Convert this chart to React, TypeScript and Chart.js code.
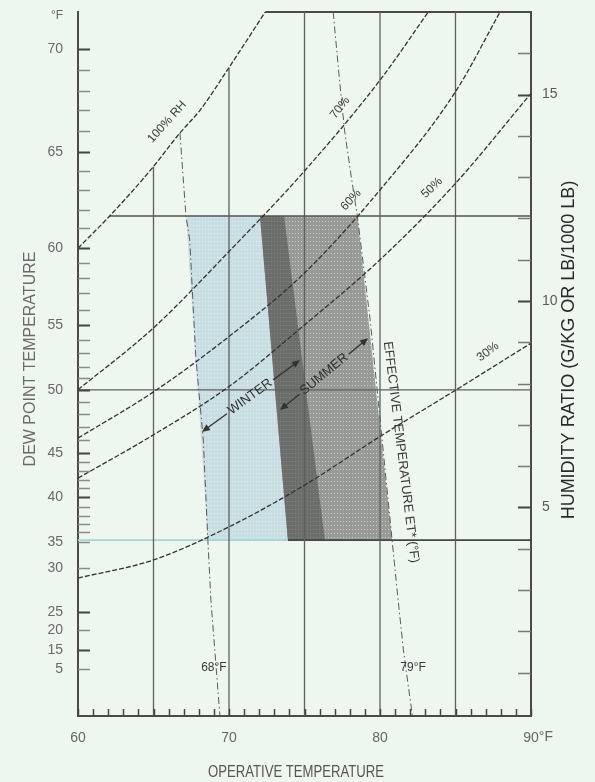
import { useEffect, useRef } from 'react';
import { Chart, registerables } from 'chart.js';

Chart.register(...registerables);

const FONT = '"Liberation Sans", Arial, sans-serif';

// ---------- axes ----------
const tempMin = 60;
const tempMax = 90;
const ratioMin = -0.05;
const ratioMax = 17;
const xTickTemps = Array.from({ length: 31 }, (_, i) => 60 + i);
const xLabelTemps = [60, 70, 80, 90];
const ratioTicks = Array.from({ length: 16 }, (_, i) => i + 1);
const ratioLabels = [5, 10, 15];
// dew point scale, placed on the humidity-ratio axis (g/kg)
const dewTickW = [16.1, 15.6, 15.09, 14.63, 14.12, 13.61, 13.15, 12.69, 12.2, 11.77, 11.28, 10.92, 10.56, 10.19, 9.78, 9.42, 9.06, 8.74, 8.4, 8.14, 7.85, 7.55, 7.26, 6.95, 6.63, 6.32, 6.1, 5.88, 5.67, 5.47, 5.25, 5.01, 4.79, 4.6, 4.41, 4.16, 3.53, 2.47, 2.03, 1.55, 1.09];
const dewTickLabel = ['70', '', '', '', '', '65', '', '', '', '', '60', '', '', '', '', '55', '', '', '', '', '50', '', '', '', '', '45', '', '', '', '', '40', '', '', '', '', '35', '30', '25', '20', '15', '5'];

// ---------- relative humidity curves (operative temp °F, humidity ratio g/kg) ----------
const rh100T = [60, 62.1, 64.8, 66.75, 68.1, 69.9, 72.4];
const rh100W = [11.28, 12.06, 13.17, 14.07, 14.63, 15.6, 17.0];
const rh70T = [60, 65, 70, 75, 80, 83.2];
const rh70W = [7.85, 9.35, 11.2, 13.15, 15.35, 17.0];
const rh60T = [60, 65, 70, 75, 80, 85, 87.95];
const rh60W = [6.68, 7.8, 9.14, 10.68, 12.69, 15.07, 17.0];
const rh50T = [60, 65, 70, 75, 80, 85, 90];
const rh50W = [5.71, 6.76, 7.93, 9.42, 11.0, 12.85, 15.03];
const rh30T = [60, 65, 70, 75, 80, 85, 90];
const rh30W = [3.29, 3.73, 4.53, 5.54, 6.72, 7.84, 8.98];

// ---------- effective temperature lines ----------
const et68T = [66.75, 67.15, 67.4, 67.8, 68.3, 68.6, 68.8, 69.4];
const et68W = [14.07, 12.06, 11.48, 8.64, 6.63, 4.21, 2.76, -0.05];
const et79T = [76.9, 77.3, 77.65, 78.1, 78.5, 79.35, 80.8, 81.2, 81.55, 82.0, 82.15];
const et79W = [17.0, 15.42, 14.14, 13.0, 12.06, 9.54, 4.21, 2.76, 1.55, 0.34, -0.05];

// ---------- comfort zones ----------
const zoneW = [12.06, 12.06, 4.21, 4.21];
const winterT = [67.15, 73.65, 76.35, 68.6];
const summerT = [72.05, 78.5, 80.8, 73.9];

// ---------- reference lines ----------
const gridTemps = [65, 70, 75, 80, 85];
const gridTopW = [13.25, 15.65, 17, 17, 17];
const upperLimitW = 12.06;
const upperLimitStartT = 62.1;
const midLineW = 7.85;
const lowerLimitW = 4.21;
const topBorderStartT = 72.4;

// ---------- annotations (data coordinates) ----------
const rhLabels = [
  { text: '100% RH', t: 65.9, w: 14.34, angle: -48 },
  { text: '70%', t: 77.35, w: 14.68, angle: -52 },
  { text: '60%', t: 78.08, w: 12.45, angle: -47 },
  { text: '50%', t: 83.44, w: 12.74, angle: -44 },
  { text: '30%', t: 87.15, w: 8.77, angle: -37 },
];
const etLabels = [
  { text: '68°F', t: 69.0, w: 1.11 },
  { text: '79°F', t: 82.19, w: 1.11 },
];
const seasonArrows = [
  { text: 'WINTER', t1: 68.21, w1: 6.83, t2: 74.7, w2: 8.57, tc: 71.39, wc: 7.68 },
  { text: 'SUMMER', t1: 73.38, w1: 7.36, t2: 79.21, w2: 9.1, tc: 76.3, wc: 8.23 },
];

const pts = (T: number[], W: number[]) => T.map((t, i) => ({ x: t, y: W[i] }));
const closed = (p: { x: number; y: number }[]) => [...p, p[0]];

function text(ctx: CanvasRenderingContext2D, s: string, x: number, y: number, o: { font: string; color: string; angle?: number; align?: CanvasTextAlign; scaleX?: number; baseline?: CanvasTextBaseline }) {
  ctx.save();
  ctx.translate(x, y);
  if (o.angle) ctx.rotate((o.angle * Math.PI) / 180);
  if (o.scaleX) ctx.scale(o.scaleX, 1);
  ctx.font = o.font;
  ctx.fillStyle = o.color;
  ctx.textAlign = o.align || 'center';
  ctx.textBaseline = o.baseline || 'middle';
  ctx.fillText(s, 0, 0);
  ctx.restore();
}

function seg(ctx: CanvasRenderingContext2D, x1: number, y1: number, x2: number, y2: number) {
  ctx.beginPath();
  ctx.moveTo(x1, y1);
  ctx.lineTo(x2, y2);
  ctx.stroke();
}

function head(ctx: CanvasRenderingContext2D, x: number, y: number, ang: number) {
  const L = 8, H = 3.5;
  const ux = Math.cos(ang), uy = Math.sin(ang);
  ctx.beginPath();
  ctx.moveTo(x, y);
  ctx.lineTo(x - ux * L - uy * H, y - uy * L + ux * H);
  ctx.lineTo(x - ux * L + uy * H, y - uy * L - ux * H);
  ctx.closePath();
  ctx.fill();
}

const noPad = (s: any) => {
  s.paddingTop = 0;
  s.paddingBottom = 0;
  s.paddingLeft = 0;
  s.paddingRight = 0;
};

const decor = {
  id: 'decor',
  beforeDraw(chart: any) {
    const { ctx, width, height } = chart;
    ctx.save();
    ctx.fillStyle = '#eef6f0';
    ctx.fillRect(0, 0, width, height);
    ctx.restore();
  },
  afterDraw(chart: any) {
    const { ctx, chartArea: a } = chart;
    const sx = chart.scales.x;
    const sy = chart.scales.y;
    const X = (t: number) => sx.getPixelForValue(t);
    const Y = (w: number) => sy.getPixelForValue(w);
    ctx.save();
    ctx.lineCap = 'butt';
    // left (dew point) tick marks, inward
    dewTickW.forEach((w, i) => {
      const major = ['70', '65', '60', '55', '50', '45', '40', '25', '15'].includes(dewTickLabel[i]);
      ctx.strokeStyle = major ? '#444' : '#8a8a8a';
      ctx.lineWidth = major ? 2 : 1.5;
      const py = Math.round(Y(w)) + 0.5;
      seg(ctx, a.left, py, a.left + 12, py);
    });
    // bottom tick marks
    ctx.strokeStyle = '#444';
    ctx.lineWidth = 1.5;
    xTickTemps.forEach((t) => {
      const px = Math.round(X(t)) + 0.5;
      seg(ctx, px, a.bottom, px, a.bottom - 7);
    });
    // right tick marks
    ratioTicks.forEach((w) => {
      const py = Math.round(Y(w)) + 0.5;
      ctx.strokeStyle = ratioLabels.includes(w) ? '#444' : '#777';
      ctx.lineWidth = ratioLabels.includes(w) ? 2 : 1.5;
      seg(ctx, a.right - 13, py, a.right, py);
    });

    // RH labels
    rhLabels.forEach((l) => text(ctx, l.text, X(l.t), Y(l.w), { font: `12px ${FONT}`, color: '#3a3a3a', angle: l.angle }));
    // ET labels
    etLabels.forEach((l) => text(ctx, l.text, X(l.t), Y(l.w), { font: `12px ${FONT}`, color: '#3a3a3a' }));
    // effective temperature title, along the ET line
    text(ctx, 'EFFECTIVE TEMPERATURE ET* (°F)', X(81.39), Y(6.34), { font: `13px ${FONT}`, color: '#3a3a3a', angle: 83 });

    // season arrows
    seasonArrows.forEach((s) => {
      const x1 = X(s.t1), y1 = Y(s.w1), x2 = X(s.t2), y2 = Y(s.w2);
      const cx = X(s.tc), cy = Y(s.wc);
      const ang = Math.atan2(y2 - y1, x2 - x1);
      ctx.font = `13px ${FONT}`;
      const gap = ctx.measureText(s.text).width / 2 + 3;
      const ux = Math.cos(ang), uy = Math.sin(ang);
      ctx.strokeStyle = '#333';
      ctx.fillStyle = '#333';
      ctx.lineWidth = 1.4;
      seg(ctx, x1 + ux * 4, y1 + uy * 4, cx - ux * gap, cy - uy * gap);
      seg(ctx, cx + ux * gap, cy + uy * gap, x2 - ux * 4, y2 - uy * 4);
      head(ctx, x1, y1, ang + Math.PI);
      head(ctx, x2, y2, ang);
      text(ctx, s.text, cx, cy, { font: `13px ${FONT}`, color: '#2f2f2f', angle: (ang * 180) / Math.PI });
    });

    // °F marks
    text(ctx, '°F', a.left - 21, a.top + 4, { font: `12px ${FONT}`, color: '#666' });
    ctx.font = `14px ${FONT}`;
    const w90 = ctx.measureText('90').width;
    text(ctx, '°F', X(90) + w90 / 2, a.bottom + 14, { font: `14px ${FONT}`, color: '#666', align: 'left', baseline: 'top' });

    // axis titles
    text(ctx, 'OPERATIVE TEMPERATURE', a.left + 218, a.bottom + 57, { font: `16px ${FONT}`, color: '#555', scaleX: 0.82 });
    text(ctx, 'DEW POINT TEMPERATURE', 31, a.top + 347, { font: `16px ${FONT}`, color: '#6a6a6a', angle: -90 });
    text(ctx, 'HUMIDITY RATIO (G/KG OR LB/1000 LB)', a.right + 38, a.top + 338, { font: `18px ${FONT}`, color: '#2a2a2a', angle: -90 });
    ctx.restore();
  },
};

export default function App() {
  const ref = useRef<HTMLCanvasElement>(null);
  useEffect(() => {
    const canvas = ref.current!;
    const ctx = canvas.getContext('2d')!;
    const pattern = (base: string, dot: string, w: number, h: number) => {
      const c = document.createElement('canvas');
      c.width = w;
      c.height = h;
      const g = c.getContext('2d')!;
      g.fillStyle = base;
      g.fillRect(0, 0, w, h);
      g.fillStyle = dot;
      g.fillRect(1, 1, 1, 1);
      return ctx.createPattern(c, 'repeat') as CanvasPattern;
    };
    const winterFill = pattern('#c8dee3', '#e4f0f2', 3, 4);
    const summerFill = pattern('#979a96', '#c9ccc8', 3, 4);
    const overlapFill = pattern('#6c6e6b', '#868885', 3, 4);

    const overlapT = [summerT[0], winterT[1], winterT[2], summerT[3]];

    const lineDs = (data: any[], color: string, width: number, dash: number[], order: number, extra: any = {}) => ({
      data,
      showLine: true,
      borderColor: color,
      borderWidth: width,
      borderDash: dash,
      pointRadius: 0,
      pointHoverRadius: 0,
      fill: false,
      tension: 0,
      order,
      ...extra,
    });
    const zoneDs = (T: number[], fillStyle: any, order: number) => ({
      data: closed(pts(T, zoneW)),
      showLine: true,
      borderWidth: 0,
      borderColor: 'rgba(0,0,0,0)',
      backgroundColor: fillStyle,
      fill: 'shape',
      pointRadius: 0,
      tension: 0,
      order,
    });

    const curve = { cubicInterpolationMode: 'monotone' };
    const datasets: any[] = [
      zoneDs(winterT, winterFill, 30),
      zoneDs(summerT, summerFill, 29),
      zoneDs(overlapT, overlapFill, 28),
      ...gridTemps.map((t, i) => lineDs([{ x: t, y: ratioMin }, { x: t, y: gridTopW[i] }], '#5f5f5f', 1.3, [], 20)),
      lineDs([{ x: upperLimitStartT, y: upperLimitW }, { x: tempMax, y: upperLimitW }], '#555', 1.4, [], 20),
      lineDs([{ x: tempMin, y: midLineW }, { x: tempMax, y: midLineW }], '#5f5f5f', 1.3, [], 20),
      lineDs([{ x: tempMin, y: lowerLimitW }, { x: summerT[3], y: lowerLimitW }], '#a9d3d7', 1.6, [], 20),
      lineDs([{ x: summerT[3], y: lowerLimitW }, { x: tempMax, y: lowerLimitW }], '#444', 1.6, [], 20),
      lineDs([{ x: topBorderStartT, y: ratioMax }, { x: tempMax, y: ratioMax }], '#4a4a4a', 2, [], 20, { clip: false }),
      lineDs(pts(et68T, et68W), '#5a5a5a', 1, [7, 3, 1.5, 3], 10),
      lineDs(pts(et79T, et79W), '#5a5a5a', 1, [7, 3, 1.5, 3], 10),
      lineDs(pts(rh100T, rh100W), '#333', 1.3, [5, 2], 5, curve),
      lineDs(pts(rh70T, rh70W), '#333', 1.3, [5, 2], 5, curve),
      lineDs(pts(rh60T, rh60W), '#333', 1.3, [5, 2], 5, curve),
      lineDs(pts(rh50T, rh50W), '#333', 1.3, [5, 2], 5, curve),
      lineDs(pts(rh30T, rh30W), '#333', 1.3, [5, 2], 5, curve),
    ];

    const tickFont = { family: FONT, size: 14 };
    const chart = new Chart(canvas, {
      type: 'scatter',
      data: { datasets },
      options: {
        responsive: false,
        animation: false,
        events: [],
        layout: { padding: { top: 12, left: 0, right: 0, bottom: 0 } },
        plugins: { legend: { display: false }, tooltip: { enabled: false } },
        scales: {
          x: {
            type: 'linear',
            position: 'bottom',
            min: tempMin,
            max: tempMax,
            grid: { display: false, drawTicks: false },
            border: { display: true, color: '#4a4a4a', width: 2 },
            ticks: {
              autoSkip: false,
              maxRotation: 0,
              padding: 14,
              color: '#666',
              font: tickFont,
              callback: (v: any) => (xLabelTemps.includes(Number(v)) ? String(v) : ''),
            },
            afterBuildTicks: (s: any) => {
              s.ticks = xTickTemps.map((v) => ({ value: v }));
            },
            afterFit: (s: any) => {
              s.height = 66;
              noPad(s);
            },
          },
          y: {
            type: 'linear',
            position: 'left',
            min: ratioMin,
            max: ratioMax,
            grid: { display: false, drawTicks: false },
            border: { display: true, color: '#4a4a4a', width: 2 },
            ticks: {
              autoSkip: false,
              padding: 15,
              color: '#6a6a6a',
              font: tickFont,
              callback: (v: any) => {
                const i = dewTickW.indexOf(Number(v));
                return i >= 0 ? dewTickLabel[i] : '';
              },
            },
            afterBuildTicks: (s: any) => {
              s.ticks = [...dewTickW].sort((p, q) => p - q).map((v) => ({ value: v }));
            },
            afterFit: (s: any) => {
              s.width = 78;
              noPad(s);
            },
          },
          y2: {
            type: 'linear',
            position: 'right',
            min: ratioMin,
            max: ratioMax,
            grid: { display: false, drawTicks: false },
            border: { display: true, color: '#4a4a4a', width: 2 },
            ticks: {
              autoSkip: false,
              padding: 11,
              color: '#5a5a5a',
              font: tickFont,
              callback: (v: any) => (ratioLabels.includes(Number(v)) ? String(v) : ''),
            },
            afterBuildTicks: (s: any) => {
              s.ticks = ratioTicks.map((v) => ({ value: v }));
            },
            afterFit: (s: any) => {
              s.width = 64;
              noPad(s);
            },
          },
        },
      } as any,
      plugins: [decor],
    });
    return () => chart.destroy();
  }, []);
  return (
    <div style={{ position: 'fixed', left: 0, top: 0, width: 595, height: 782, background: '#eef6f0' }}>
      <canvas ref={ref} width={595} height={782} style={{ display: 'block' }} />
    </div>
  );
}
